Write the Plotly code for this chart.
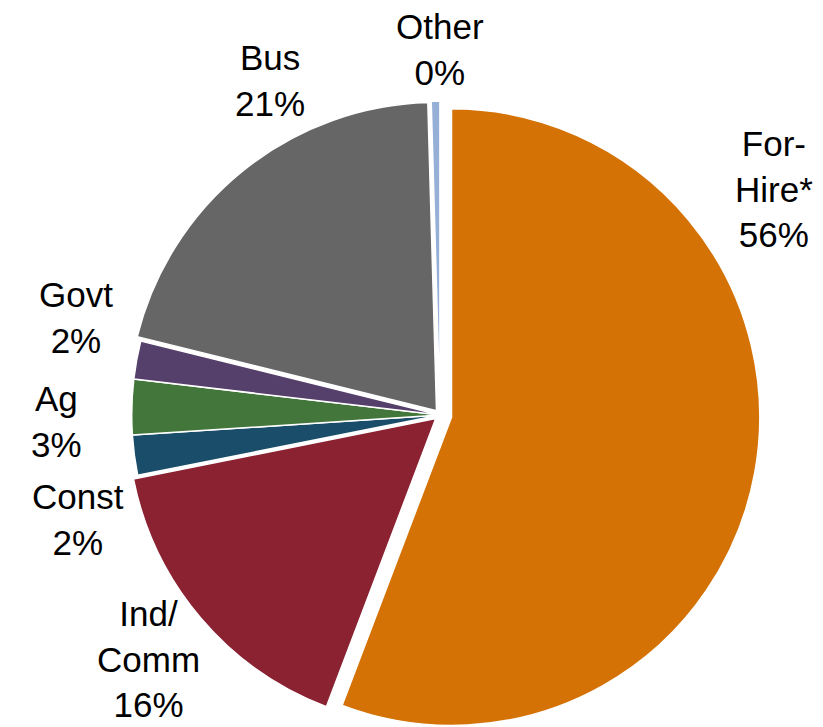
import plotly.graph_objects as go

categories = ["For-Hire*", "Ind/Comm", "Const", "Ag", "Govt", "Bus", "Other"]
label_lines = ["For-<br>Hire*", "Ind/<br>Comm", "Const", "Ag", "Govt", "Bus", "Other"]
values = [55.8, 16.1, 2.1, 2.9, 2.0, 20.7, 0.45]
colors = ["#D47206", "#8B2232", "#1A4D6A", "#43763A", "#553F6B", "#666666", "#96AFD7"]
pulls = [0.038, 0.018, 0, 0, 0, 0.018, 0.018]

# label anchor positions (pixels in the 823x727 canvas)
label_px = [(766, 181), (140, 651), (70, 511), (48, 413), (68, 310), (262, 73), (432, 41)]

W, H = 823, 727
total = sum(values)

half = 320
cx, cy = 432, 407

fig = go.Figure(go.Pie(
    labels=categories,
    values=values,
    sort=False,
    direction="clockwise",
    rotation=0,
    pull=pulls,
    marker=dict(colors=colors, line=dict(color="white", width=1.5)),
    textinfo="none",
    hoverinfo="label+percent",
    domain=dict(x=[(cx - half) / W, (cx + half) / W],
                y=[max(0, 1 - (cy + half) / H), 1 - (cy - half) / H]),
    showlegend=False,
))

for name, v, (px, py) in zip(label_lines, values, label_px):
    pct = int(v / total * 100 + 0.5)
    fig.add_annotation(
        x=px / W, y=1 - py / H, xref="paper", yref="paper",
        text=f"{name}<br>{pct}%", showarrow=False,
        xanchor="center", yanchor="middle", align="center",
        font=dict(family="Liberation Sans, Arial, sans-serif", size=35, color="black"),
    )

fig.update_layout(
    width=W, height=H,
    margin=dict(l=0, r=0, t=0, b=0),
    paper_bgcolor="white", plot_bgcolor="white",
)

fig.write_html("out.html")
